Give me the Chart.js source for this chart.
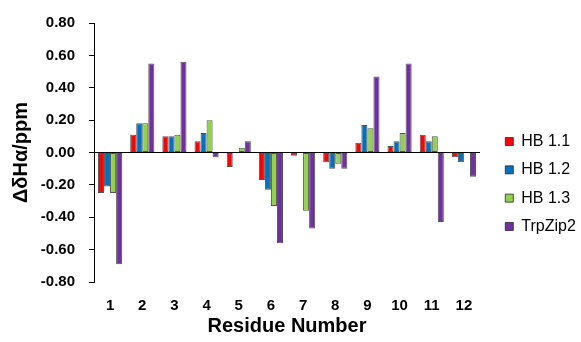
<!DOCTYPE html>
<html>
<head>
<meta charset="utf-8">
<script src="https://cdn.jsdelivr.net/npm/chart.js@4.4.1/dist/chart.umd.min.js"></script>
<style>
  html, body { margin: 0; padding: 0; background: #fff; }
  #wrap { width: 581px; height: 342px; }
</style>
</head>
<body>
<div id="wrap"><canvas id="chart" width="581" height="342"></canvas></div>
<script>
// Residue numbers on the x axis
const residues = ['1', '2', '3', '4', '5', '6', '7', '8', '9', '10', '11', '12'];

// ΔδHα values (ppm)
const hb11 = [-0.25, 0.11, 0.10, 0.07, -0.09, -0.17, -0.02, -0.06, 0.06, 0.04, 0.11, -0.03];
const hb12 = [-0.21, 0.18, 0.10, 0.12, 0.00, -0.23, 0.00, -0.10, 0.17, 0.07, 0.07, -0.06];
const hb13 = [-0.25, 0.18, 0.11, 0.20, 0.03, -0.33, -0.36, -0.07, 0.15, 0.12, 0.10, 0.00];
const trpZip2 = [-0.69, 0.55, 0.56, -0.03, 0.07, -0.56, -0.47, -0.10, 0.47, 0.55, -0.43, -0.15];

const yTickLabels = ['-0.80', '-0.60', '-0.40', '-0.20', '0.00', '0.20', '0.40', '0.60', '0.80'];

const FONT = 'Liberation Sans, Arial, sans-serif';
const outline = 'rgba(40,40,40,0.8)';
const mk = (label, data, color) => ({
  label, data,
  yAxisID: 'y',
  backgroundColor: color,
  borderColor: outline,
  borderWidth: 1,
  borderSkipped: false
});

new Chart(document.getElementById('chart'), {
  type: 'bar',
  data: {
    labels: residues,
    datasets: [
      mk('HB 1.1', hb11, '#ff0000'),
      mk('HB 1.2', hb12, '#0070c0'),
      mk('HB 1.3', hb13, '#92d050'),
      mk('TrpZip2', trpZip2, '#7030a0')
    ]
  },
  options: {
    responsive: false,
    animation: false,
    layout: { padding: { top: 20, right: 0, bottom: 4, left: 4 } },
    datasets: { bar: { categoryPercentage: 0.75, barPercentage: 1 } },
    scales: {
      x: {
        border: { display: false },
        grid: { display: false, drawTicks: false },
        ticks: { color: '#000', font: { family: FONT, size: 15, weight: 'bold' }, padding: 15 },
        title: {
          display: true, text: 'Residue Number', color: '#000',
          font: { family: FONT, size: 20, weight: 'bold' }, padding: { top: 1, bottom: 0 }
        },
        afterFit: s => { s.height = 56; }
      },
      y: {
        position: 'left',
        min: -0.8, max: 0.8,
        border: { display: true, color: '#000', width: 1 },
        grid: {
          drawOnChartArea: true,
          color: c => (c.tick && Math.abs(c.tick.value) < 1e-9) ? '#000' : 'rgba(0,0,0,0)',
          tickColor: '#000',
          tickLength: 5
        },
        ticks: {
          stepSize: 0.2,
          color: '#000',
          padding: 14,
          font: { family: FONT, size: 15, weight: 'bold' },
          callback: (v, i) => yTickLabels[i]
        },
        title: {
          display: true, text: 'ΔδHα/ppm', color: '#000',
          font: { family: FONT, size: 20, weight: 'bold' }, padding: { top: 5, bottom: 8 }
        },
        afterFit: s => { s.width = 90; }
      },
      // empty spacer between plot and legend
      gap: {
        type: 'linear',
        axis: 'y',
        position: 'right',
        display: true,
        grid: { display: false, drawTicks: false },
        border: { display: false },
        ticks: { display: false },
        afterFit: s => { s.width = 13; }
      }
    },
    plugins: {
      legend: {
        position: 'right',
        align: 'center',
        maxWidth: 88,
        title: { display: true, text: ' ', font: { size: 6, lineHeight: 1 }, padding: 2 },
        labels: {
          color: '#000',
          boxWidth: 8, boxHeight: 8,
          padding: 12.3,
          font: { family: FONT, size: 16 }
        }
      },
      tooltip: { enabled: false }
    }
  }
});
</script>
</body>
</html>
